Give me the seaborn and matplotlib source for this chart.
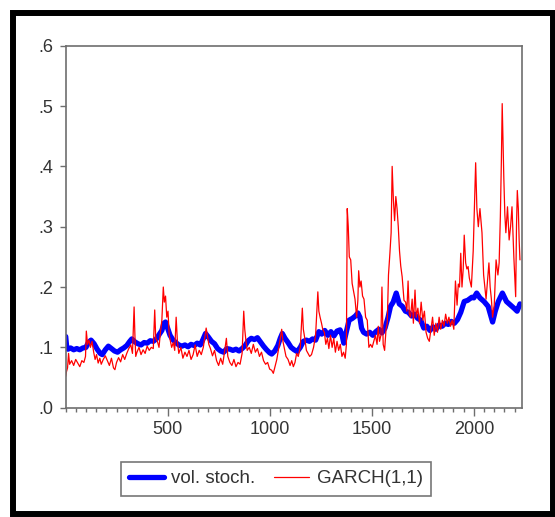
import matplotlib
matplotlib.use("Agg")
import matplotlib.pyplot as plt
import seaborn as sns
from matplotlib.ticker import FixedLocator, MultipleLocator, FuncFormatter
from matplotlib.patches import Rectangle

# stochastic volatility (smooth, thick blue) - 10 points per row
vs_t = [1, 6, 12, 25, 40, 55, 70, 85, 100, 112,
        125, 140, 155, 170, 180, 195, 210, 225, 240, 255,
        270, 285, 300, 315, 325, 340, 355, 370, 385, 400,
        415, 430, 445, 460, 472, 482, 490, 500, 512, 525,
        540, 555, 570, 585, 600, 615, 630, 645, 660, 672,
        686, 700, 715, 730, 745, 760, 775, 790, 805, 820,
        835, 850, 865, 880, 895, 910, 925, 940, 955, 970,
        985, 1000, 1010, 1025, 1040, 1052, 1062, 1075, 1090, 1105,
        1120, 1135, 1150, 1165, 1180, 1195, 1210, 1225, 1241, 1255,
        1270, 1285, 1300, 1315, 1330, 1345, 1355, 1363, 1375, 1389,
        1405, 1420, 1432, 1442, 1450, 1460, 1475, 1490, 1505, 1520,
        1535, 1550, 1565, 1580, 1592, 1605, 1620, 1635, 1650, 1665,
        1680, 1695, 1710, 1725, 1740, 1755, 1770, 1785, 1800, 1815,
        1830, 1845, 1860, 1875, 1890, 1905, 1920, 1936, 1953, 1970,
        1990, 2000, 2014, 2030, 2050, 2070, 2085, 2092, 2105, 2120,
        2140, 2160, 2180, 2200, 2212, 2226]
vs_v = [0.118, 0.100, 0.097, 0.099, 0.096, 0.098, 0.096, 0.099, 0.100, 0.108,
        0.112, 0.106, 0.097, 0.090, 0.088, 0.096, 0.102, 0.098, 0.094, 0.092,
        0.096, 0.099, 0.103, 0.110, 0.114, 0.109, 0.106, 0.104, 0.108, 0.107,
        0.111, 0.110, 0.114, 0.122, 0.128, 0.140, 0.142, 0.132, 0.120, 0.113,
        0.108, 0.104, 0.102, 0.104, 0.101, 0.105, 0.103, 0.107, 0.104, 0.112,
        0.123, 0.117, 0.110, 0.106, 0.098, 0.094, 0.092, 0.098, 0.097, 0.095,
        0.097, 0.094, 0.098, 0.103, 0.111, 0.115, 0.113, 0.116, 0.109, 0.102,
        0.096, 0.091, 0.089, 0.094, 0.103, 0.115, 0.123, 0.115, 0.108, 0.100,
        0.096, 0.093, 0.100, 0.110, 0.112, 0.110, 0.114, 0.112, 0.126, 0.122,
        0.128, 0.120, 0.126, 0.119, 0.127, 0.129, 0.120, 0.107, 0.125, 0.145,
        0.148, 0.152, 0.157, 0.150, 0.132, 0.125, 0.122, 0.125, 0.120, 0.126,
        0.130, 0.124, 0.132, 0.150, 0.168, 0.175, 0.190, 0.172, 0.168, 0.160,
        0.158, 0.152, 0.155, 0.148, 0.145, 0.132, 0.135, 0.128, 0.134, 0.130,
        0.137, 0.135, 0.140, 0.138, 0.143, 0.140, 0.146, 0.158, 0.176, 0.178,
        0.183, 0.182, 0.190, 0.182, 0.176, 0.168, 0.150, 0.142, 0.160, 0.176,
        0.190, 0.176, 0.170, 0.164, 0.160, 0.172]

# GARCH(1,1) conditional volatility (spiky, thin red) - 10 points per row
garch_t = [1, 5, 10, 15, 20, 30, 40, 50, 60, 70,
           80, 90, 98, 102, 108, 115, 122, 130, 138, 145,
           152, 160, 168, 175, 185, 195, 205, 215, 225, 235,
           242, 250, 260, 270, 280, 290, 300, 310, 320, 328,
           336, 340, 344, 350, 360, 370, 380, 390, 400, 410,
           420, 430, 437, 442, 450, 458, 465, 472, 479, 484,
           490, 496, 502, 508, 514, 520, 528, 535, 542, 548,
           555, 565, 575, 585, 595, 605, 615, 625, 635, 645,
           655, 665, 675, 689, 695, 702, 710, 720, 730, 740,
           750, 760, 770, 780, 788, 795, 805, 815, 825, 835,
           845, 855, 865, 873, 878, 884, 890, 900, 910, 920,
           930, 940, 950, 960, 970, 980, 990, 1000, 1010, 1018,
           1026, 1035, 1045, 1059, 1065, 1072, 1080, 1090, 1100, 1108,
           1116, 1124, 1132, 1140, 1150, 1160, 1165, 1172, 1180, 1188,
           1196, 1205, 1215, 1225, 1236, 1241, 1247, 1254, 1260, 1268,
           1275, 1283, 1290, 1298, 1306, 1314, 1322, 1330, 1338, 1346,
           1354, 1362, 1370, 1376, 1380, 1385, 1390, 1397, 1404, 1410,
           1418, 1426, 1432, 1436, 1442, 1448, 1455, 1462, 1470, 1478,
           1486, 1494, 1502, 1510, 1518, 1526, 1532, 1538, 1545, 1550,
           1556, 1563, 1570, 1576, 1582, 1589, 1595, 1600, 1606, 1612,
           1618, 1624, 1630, 1636, 1642, 1649, 1658, 1666, 1672, 1678,
           1684, 1690, 1698, 1704, 1712, 1718, 1726, 1734, 1742, 1750,
           1758, 1766, 1774, 1782, 1790, 1798, 1806, 1814, 1822, 1830,
           1838, 1846, 1854, 1862, 1870, 1878, 1886, 1894, 1902, 1910,
           1918, 1924, 1930, 1936, 1942, 1948, 1953, 1960, 1966, 1972,
           1978, 1988, 1997, 2003, 2009, 2015, 2022, 2030, 2040, 2048,
           2054, 2060, 2067, 2074, 2080, 2086, 2092, 2100, 2109, 2118,
           2124, 2130, 2135, 2139, 2143, 2147, 2152, 2157, 2165, 2173,
           2180, 2187, 2196, 2205, 2209, 2213, 2218, 2222, 2226]
garch_v = [0.052, 0.060, 0.066, 0.090, 0.072, 0.078, 0.070, 0.080, 0.074, 0.068,
           0.078, 0.075, 0.085, 0.127, 0.105, 0.112, 0.100, 0.110, 0.092, 0.080,
           0.088, 0.074, 0.082, 0.072, 0.080, 0.086, 0.078, 0.070, 0.082, 0.066,
           0.063, 0.075, 0.083, 0.076, 0.088, 0.080, 0.090, 0.098, 0.104, 0.090,
           0.167, 0.120, 0.085, 0.092, 0.100, 0.088, 0.096, 0.090, 0.102, 0.095,
           0.100, 0.098, 0.162, 0.115, 0.110, 0.100, 0.125, 0.145, 0.200, 0.175,
           0.185, 0.150, 0.160, 0.120, 0.110, 0.100, 0.108, 0.095, 0.150, 0.110,
           0.090, 0.100, 0.082, 0.092, 0.085, 0.095, 0.080, 0.088, 0.104, 0.085,
           0.095, 0.088, 0.100, 0.132, 0.120, 0.105, 0.098, 0.086, 0.095, 0.078,
           0.070, 0.082, 0.072, 0.095, 0.115, 0.085, 0.075, 0.070, 0.080, 0.068,
           0.075, 0.072, 0.090, 0.160, 0.130, 0.110, 0.095, 0.100, 0.090, 0.105,
           0.092, 0.098, 0.085, 0.092, 0.078, 0.072, 0.075, 0.064, 0.062, 0.057,
           0.068, 0.080, 0.100, 0.130, 0.110, 0.098, 0.085, 0.080, 0.070, 0.078,
           0.068, 0.075, 0.090, 0.085, 0.100, 0.165, 0.130, 0.115, 0.095, 0.090,
           0.085, 0.088, 0.100, 0.120, 0.192, 0.160, 0.150, 0.140, 0.130, 0.125,
           0.105, 0.115, 0.098, 0.120, 0.100, 0.115, 0.092, 0.110, 0.095, 0.105,
           0.085, 0.092, 0.082, 0.105, 0.330, 0.300, 0.250, 0.245, 0.206, 0.195,
           0.180, 0.150, 0.178, 0.227, 0.200, 0.210, 0.185, 0.180, 0.150, 0.145,
           0.100, 0.105, 0.100, 0.110, 0.120, 0.105, 0.135, 0.110, 0.120, 0.200,
           0.105, 0.095, 0.130, 0.140, 0.220, 0.256, 0.290, 0.400, 0.345, 0.310,
           0.350, 0.330, 0.300, 0.260, 0.235, 0.217, 0.178, 0.175, 0.160, 0.210,
           0.155, 0.150, 0.180, 0.140, 0.195, 0.150, 0.165, 0.140, 0.175, 0.145,
           0.160, 0.125, 0.115, 0.110, 0.130, 0.150, 0.120, 0.140, 0.125, 0.150,
           0.130, 0.145, 0.135, 0.155, 0.140, 0.150, 0.135, 0.145, 0.130, 0.210,
           0.170, 0.205, 0.200, 0.256, 0.200, 0.230, 0.286, 0.240, 0.230, 0.234,
           0.215, 0.200, 0.260, 0.330, 0.406, 0.330, 0.300, 0.330, 0.290, 0.220,
           0.200, 0.180, 0.210, 0.240, 0.200, 0.180, 0.150, 0.170, 0.245, 0.220,
           0.240, 0.317, 0.410, 0.504, 0.440, 0.380, 0.320, 0.290, 0.333, 0.278,
           0.300, 0.333, 0.250, 0.184, 0.300, 0.360, 0.330, 0.278, 0.245]

sns.set_style("white")
plt.rcParams["font.family"] = ["Liberation Sans", "DejaVu Sans"]

W, H = 555, 517
fig = plt.figure(figsize=(W / 100, H / 100), dpi=100)
ax = fig.add_axes([65.5 / W, 1 - 407.7 / H, (522 - 65.5) / W, (407.7 - 45.7) / H])

sns.lineplot(x=vs_t, y=vs_v, ax=ax, color="#0000ff", lw=3.8, estimator=None,
             sort=False, label="vol. stoch.", legend=False)
sns.lineplot(x=garch_t, y=garch_v, ax=ax, color="#ff0000", lw=0.9, estimator=None,
             sort=False, label="GARCH(1,1)", legend=False)

ax.set_xlim(0, 2236)
ax.set_ylim(0, 0.6)
ax.xaxis.set_major_locator(FixedLocator([500, 1000, 1500, 2000]))
ax.xaxis.set_minor_locator(MultipleLocator(50))
ax.yaxis.set_major_locator(FixedLocator([0, 0.1, 0.2, 0.3, 0.4, 0.5, 0.6]))
ax.yaxis.set_major_formatter(FuncFormatter(lambda v, p: "." + str(int(round(v * 10)))))
ax.set_xlabel("")
ax.set_ylabel("")

gray = "#6e6e6e"
for s in ax.spines.values():
    s.set_color(gray)
    s.set_linewidth(1.2)
ax.tick_params(axis="both", which="both", direction="out", colors=gray,
               labelcolor="#333333", labelsize=13, width=1.0)
ax.tick_params(axis="x", which="major", length=5.5, pad=4, bottom=True)
ax.tick_params(axis="x", which="minor", length=3, bottom=True)
ax.tick_params(axis="y", which="major", length=4.5, pad=4.5, left=True)

handles, labels = ax.get_legend_handles_labels()
leg = fig.legend(handles, labels, loc="center", bbox_to_anchor=(0.497, 1 - 478.7 / H),
                 ncol=2, frameon=True, fancybox=False, fontsize=13.5,
                 handlelength=1.85, handletextpad=0.4, columnspacing=1.0,
                 borderpad=0.45, borderaxespad=0)
leg.get_frame().set_edgecolor("#555555")
leg.get_frame().set_linewidth(1.2)
for txt in leg.get_texts():
    txt.set_color("#333333")

# outer black border of the exported graph
fig.add_artist(Rectangle((12.5 / W, 1 - 514 / H), (552.5 - 12.5) / W, (514 - 12.5) / H,
                         transform=fig.transFigure, fill=False, edgecolor="black", lw=4.3))

fig.savefig("out.png", dpi=100)
